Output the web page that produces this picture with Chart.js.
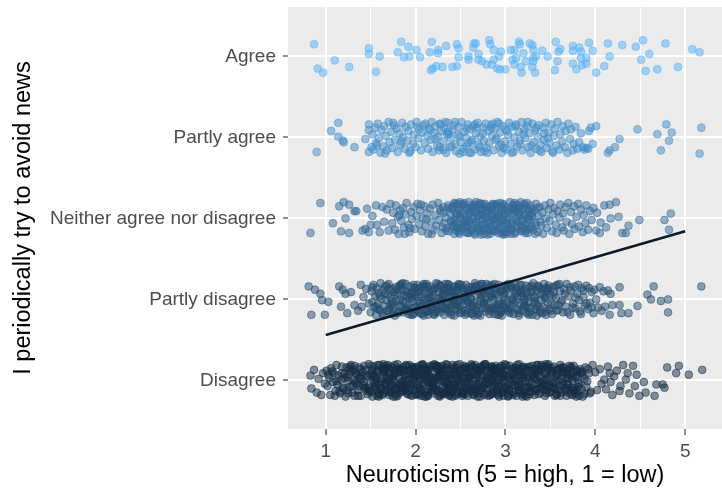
<!DOCTYPE html>
<html>
<head>
<meta charset="utf-8">
<script src="https://cdn.jsdelivr.net/npm/chart.js@4.4.1/dist/chart.umd.min.js"></script>
<style>
  html, body { margin: 0; padding: 0; background: #fff; }
  #wrap { width: 722px; height: 495px; }
</style>
</head>
<body>
<div id="wrap"><canvas id="chart" width="722" height="495"></canvas></div>
<script>
// answer levels, bottom to top
const categories = ['Disagree', 'Partly disagree', 'Neither agree nor disagree', 'Partly agree', 'Agree'];
const xTicks = [1, 2, 3, 4, 5];

// jittered points: pairs of (neuroticism x100, vertical jitter x100)
const disagreePts = [
  83,6, 84,-10, 87,13, 90,-15, 92,2, 95,-18, 97,9, 99,-4,
  101,12, 102,-7, 104,3, 105,-18, 106,15, 108,-2, 109,9, 111,-13, 112,19, 113,-5, 114,6, 116,-16, 117,1, 118,17, 120,-10, 121,8, 122,-20, 124,4, 125,-1, 126,14, 127,-8, 129,11, 130,-15, 131,0, 132,18, 134,-4, 135,7, 136,-12, 137,16, 139,-19, 140,2, 141,10, 142,-6, 144,13, 145,-11, 146,5, 147,-17, 148,20, 150,-3, 119,-9, 107,11, 115,-14, 123,16, 133,-2, 138,5, 143,-9, 128,19, 110,-19, 103,7, 149,8,
  151,-14, 152,9, 153,-1, 154,17, 155,-8, 156,4, 157,-19, 158,12, 159,-5, 160,19, 161,-11, 162,2, 163,14, 164,-16, 165,7, 166,-3, 167,18, 168,-12, 169,0, 170,10, 171,-18, 172,5, 173,-7, 174,15, 175,-20, 176,8, 177,-2, 178,13, 179,-10, 180,20, 181,-6, 182,3, 183,-15, 184,11, 185,-1, 186,16, 187,-13, 188,6, 189,-9, 190,18, 191,-17, 192,1, 193,12, 194,-4, 195,9, 196,-19, 197,15, 198,-8, 199,4, 200,-12,
  152,-20, 154,6, 157,11, 159,-16, 162,-9, 164,20, 167,-6, 169,15, 172,-14, 174,1, 177,19, 179,-17, 182,10, 184,-3, 187,13, 189,-11, 192,7, 194,-18, 197,2, 199,16, 155,-4, 166,12, 176,-11, 186,-7, 196,8,
  201,14, 202,-6, 203,10, 204,-17, 205,3, 206,19, 207,-11, 208,7, 209,-2, 210,16, 211,-14, 212,0, 213,12, 214,-19, 215,5, 216,-8, 217,17, 218,-4, 219,9, 220,-16, 221,20, 222,-10, 223,2, 224,14, 225,-13, 226,6, 227,-20, 228,11, 229,-1, 230,18, 231,-7, 232,4, 233,-15, 234,15, 235,-3, 236,8, 237,-18, 238,13, 239,-9, 240,1, 241,19, 242,-12, 243,10, 244,-5, 245,16, 246,-17, 247,3, 248,-8, 249,12, 250,-14,
  202,17, 204,-1, 206,-13, 208,20, 211,6, 213,-18, 215,14, 217,-7, 219,1, 221,-12, 223,18, 225,4, 227,9, 229,-16, 231,13, 233,-3, 235,19, 237,-10, 239,7, 241,-20, 243,-2, 245,11, 247,-15, 249,5, 203,-9, 209,15, 214,2, 220,-6, 226,17, 232,-11, 238,-19, 244,8, 248,0, 212,-20, 236,-5,
  251,8, 252,-15, 253,3, 254,18, 255,-9, 256,12, 257,-2, 258,-19, 259,15, 260,5, 261,-12, 262,20, 263,-6, 264,9, 265,-17, 266,1, 267,14, 268,-8, 269,-20, 270,11, 271,-3, 272,17, 273,-13, 274,6, 275,-1, 276,19, 277,-16, 278,4, 279,-10, 280,13, 281,-5, 282,16, 283,-18, 284,2, 285,10, 286,-14, 287,7, 288,-7, 289,18, 290,-11, 291,0, 292,15, 293,-20, 294,9, 295,-4, 296,12, 297,-15, 298,6, 299,20, 300,-8,
  251,-6, 254,-14, 256,16, 259,-3, 261,10, 264,-18, 266,19, 269,7, 271,-11, 274,14, 276,-7, 279,3, 281,-19, 284,17, 286,-1, 289,5, 291,-16, 294,11, 296,-12, 299,1, 258,8, 263,-10, 272,-20, 278,20, 288,12, 293,-8, 297,17, 253,-17, 267,-4, 283,-2,
  301,13, 302,-10, 303,4, 304,-17, 305,18, 306,-2, 307,9, 308,-14, 309,15, 310,-6, 311,1, 312,-19, 313,11, 314,-8, 315,20, 316,-12, 317,5, 318,-4, 319,16, 320,-16, 321,7, 322,-1, 323,12, 324,-20, 325,3, 326,-9, 327,17, 328,-13, 329,8, 330,-5, 331,14, 332,-18, 333,2, 334,10, 335,-11, 336,19, 337,-3, 338,6, 339,-15, 340,13, 341,-7, 342,0, 343,17, 344,-19, 345,9, 346,-12, 347,4, 348,15, 349,-6, 350,11,
  303,-19, 307,-6, 311,16, 315,-13, 319,3, 323,-9, 327,-17, 331,7, 335,19, 339,-2, 343,-11, 347,18, 309,6, 321,-14, 337,12,
  351,-14, 352,8, 353,-3, 354,17, 355,-10, 356,5, 357,-18, 358,13, 359,0, 360,-7, 361,19, 362,-15, 363,10, 364,-2, 365,16, 366,-12, 367,3, 368,-19, 369,12, 370,-5, 371,7, 372,-16, 373,15, 374,1, 375,-9, 376,18, 377,-13, 378,4, 379,-20, 380,11, 382,-4, 383,14, 385,-11, 386,6, 388,-17, 389,16, 391,-1, 393,9, 395,-14, 397,19, 354,-8, 362,2, 368,8, 374,-18, 381,-8,
  400,10, 402,-12, 405,14, 407,-4, 410,1, 412,-11, 414,17, 416,9, 417,-2, 419,-18, 421,5, 424,12, 427,-13, 428,-7, 431,19, 434,1, 436,9, 438,-16, 442,18, 444,-7, 446,7, 449,-19, 454,-2, 456,-15, 466,-19, 468,-5, 475,-5, 477,-9, 480,16, 490,9, 493,18, 504,7, 519,13,
  112,-1, 118,9, 125,-16, 131,13, 137,-7, 143,18, 149,-13, 153,5, 156,-11, 158,19, 161,-2, 163,-18, 165,10, 168,3, 171,-15, 173,17, 175,-6, 178,8, 180,-19, 183,14, 185,-9, 188,1, 190,-15, 193,19, 195,-5, 198,11, 200,-17, 203,6, 205,-10, 207,13, 210,-20, 212,9, 214,-3, 216,18, 218,-13, 221,3, 223,-7, 225,15, 228,-18, 230,7, 232,-1, 234,20, 236,-12, 238,2, 240,-14, 242,14, 244,-9, 246,19, 248,-4, 250,10,
  252,-19, 255,16, 257,-7, 259,1, 262,-13, 264,17, 266,-10, 268,4, 270,-16, 273,12, 275,-9, 277,20, 279,-2, 282,7, 284,-15, 286,15, 288,-3, 290,9, 292,-18, 295,18, 297,-1, 299,-10, 301,6, 304,-12, 306,14, 308,-18, 310,3, 313,19, 315,-5, 317,10, 319,-20, 322,15, 324,-8, 326,5, 328,-14, 330,18, 333,-11, 335,1, 337,-17, 339,16, 341,-4, 344,8, 346,-16, 348,20, 350,-1,
  353,12, 355,-19, 357,6, 359,-12, 361,15, 364,-6, 366,10, 368,-14, 371,18, 373,-9, 375,4, 377,-17, 379,13, 381,-3, 384,9, 386,-20, 388,2, 390,-8, 392,14, 394,-16,
  121,3, 124,-12, 127,17, 130,-6, 133,9, 136,-19, 139,14, 142,-2, 145,6, 148,-14, 151,18, 154,-8, 157,1, 160,-17, 163,12, 166,-4, 169,19, 172,-11, 175,5, 178,-20, 181,15, 184,-7, 187,10, 190,-2, 193,-13, 196,17, 199,0, 202,-18, 205,8, 208,-5, 211,14, 214,-15, 217,4, 220,19, 223,-11, 226,1, 229,13, 232,-17, 235,6, 238,-7, 241,16, 244,-19, 247,9, 250,-1,
  253,14, 256,-10, 259,4, 262,18, 265,-14, 268,7, 271,-5, 274,17, 277,-18, 280,2, 283,11, 286,-9, 289,15, 292,-3, 295,-15, 298,8, 301,19, 304,-6, 307,2, 310,-16, 313,13, 316,-1, 319,7, 322,-19, 325,16, 328,-8, 331,4, 334,-13, 337,10, 340,19, 343,-6, 346,1, 349,-15, 352,15, 355,-3, 358,8, 361,-19, 364,12, 367,-9, 370,2, 373,17, 376,-12, 379,6, 382,-19, 385,11,
  126,8, 132,-19, 138,3, 146,-9, 152,13, 159,-20, 165,16, 171,-1, 177,11, 183,-13, 189,19, 194,-9, 200,5, 206,-19, 213,10, 219,-3, 224,18, 230,-14, 237,3, 243,-6, 249,20, 255,-17, 261,6, 267,-12, 272,13, 278,-4, 285,17, 291,-12, 297,4, 303,-20, 309,10, 314,-7, 320,17, 327,-2, 333,13, 338,-10, 345,20, 351,-9, 357,-17, 363,16, 369,-4, 375,10, 380,-13,
  165,-13, 195,13, 225,-19, 255,2, 285,-17, 315,14, 345,-7, 228,10, 258,-11, 288,5, 318,-17, 178,-10, 208,19, 238,-15, 268,15, 298,-19
];

const partlyDisagreePts = [
  81,16, 84,-19, 88,12, 94,7, 96,-1, 99,-19, 103,-3, 115,16, 117,-9, 119,12, 122,7, 124,-17, 128,9, 132,-7, 136,-14, 139,18, 140,-9, 142,3, 145,13, 148,-5,
  150,-16, 151,10, 152,-3, 153,18, 154,-10, 155,4, 156,-19, 157,14, 158,-6, 159,8, 160,-13, 161,20, 162,1, 163,-17, 164,11, 165,-8, 166,16, 167,-1, 168,-14, 169,6, 170,19, 171,-11, 172,3, 173,-18, 174,13, 175,-5, 176,9, 177,-20, 178,15, 179,-2, 180,7, 181,-15, 182,17, 183,0, 184,-9, 185,12, 186,-16, 187,5, 188,-4, 189,19, 190,-12, 191,10, 192,-7, 193,2, 194,16, 195,-19, 196,8, 197,-3, 198,14, 199,-10,
  152,15, 156,-9, 160,4, 164,-20, 168,17, 172,-6, 176,-15, 180,12, 184,19, 188,-13, 192,-18, 196,1, 158,-12, 166,7, 174,-3, 182,-8, 190,4, 198,-17, 170,-14, 186,20,
  200,6, 201,-13, 202,18, 203,-2, 204,10, 205,-17, 206,3, 207,15, 208,-8, 209,-20, 210,12, 211,-5, 212,19, 213,0, 214,-14, 215,8, 216,-10, 217,16, 218,-3, 219,5, 220,-18, 221,13, 222,-7, 223,20, 224,-12, 225,2, 226,9, 227,-16, 228,17, 229,-1, 230,-9, 231,11, 232,-19, 233,6, 234,14, 235,-4, 236,-15, 237,18, 238,1, 239,-11, 240,10, 241,-6, 242,16, 243,-20, 244,4, 245,-13, 246,12, 247,-2, 248,19, 249,-8,
  201,9, 205,-5, 209,17, 213,-15, 217,2, 221,-19, 225,14, 229,-11, 233,19, 237,-7, 241,4, 245,16, 249,-17, 203,-14, 211,7, 219,-12, 227,1, 235,11, 243,-4, 247,15,
  250,3, 251,-16, 252,14, 253,-6, 254,9, 255,-19, 256,18, 257,-1, 258,-12, 259,7, 260,15, 261,-9, 262,0, 263,-17, 264,12, 265,-4, 266,20, 267,-14, 268,5, 269,10, 270,-7, 271,17, 272,-20, 273,2, 274,-11, 275,13, 276,-3, 277,8, 278,-15, 279,19, 280,-5, 281,11, 282,-18, 283,4, 284,16, 285,-10, 286,1, 287,-13, 288,14, 289,-8, 290,6, 291,-19, 292,18, 293,-2, 294,9, 295,-16, 296,12, 297,-6, 298,3, 299,17,
  253,11, 258,-3, 263,15, 268,-10, 273,19, 278,-1, 283,-14, 288,7, 293,-19, 298,-9, 255,1, 265,-20, 275,8, 285,18, 295,-13,
  300,-11, 301,13, 302,-4, 303,19, 304,-15, 305,6, 306,-8, 307,16, 308,1, 309,-18, 310,10, 311,-2, 312,14, 313,-12, 314,4, 315,-20, 316,18, 317,-6, 318,8, 319,-14, 320,12, 321,0, 322,-9, 323,17, 324,-17, 325,5, 326,-3, 327,15, 328,-11, 329,9, 330,-19, 331,20, 332,-5, 333,2, 334,-13, 335,11, 336,-7, 337,16, 338,-16, 339,7, 340,-1, 341,13, 342,-10, 343,19, 344,3, 345,-15, 346,10, 347,-4, 348,17, 349,-12,
  305,-17, 315,9, 325,-10, 335,-20, 345,14,
  350,6, 352,-18, 353,15, 355,-7, 356,2, 358,18, 359,-13, 361,10, 362,-3, 364,-16, 365,13, 367,-9, 368,19, 370,4, 372,-19, 373,11, 375,-5, 377,16, 378,-11, 380,7, 382,-1, 383,-15, 385,14, 387,3, 388,-8, 390,17, 392,-12, 394,-4, 396,9, 398,-17, 399,12, 401,0, 403,-10, 405,15, 407,-14,
  409,10, 411,-9, 414,11, 416,-19, 417,7, 419,-7, 427,15, 427,-7, 429,-17, 437,-17, 447,-8, 458,6, 462,0, 465,16, 473,-2, 481,0, 481,-16, 518,16,
  171,13, 174,-8, 177,5, 180,-17, 183,17, 186,-2, 189,9, 192,-14, 195,4, 198,18, 201,-9, 204,13, 207,-18, 210,1, 213,16, 216,-6, 219,10, 222,-16, 225,19, 228,-3, 231,6, 234,-12, 237,14, 240,-19, 243,8, 246,-7, 249,18, 252,-1, 255,-14, 258,12, 261,2, 264,-9, 267,17, 270,-17, 273,6, 276,-5, 279,14, 282,-11, 285,3, 288,19,
  291,-7, 294,-15, 297,10, 300,0, 303,-13, 306,16, 309,-4, 312,8, 315,-17, 318,18, 321,-8, 324,2, 327,-16, 330,12, 333,-2, 336,17, 339,-12, 342,6, 345,-19, 348,14, 351,-6, 354,9, 357,-14, 360,19, 363,-1, 366,7, 369,-16, 372,15, 375,-10, 378,2, 381,18, 384,-18, 387,11, 390,-5, 393,14, 396,-10, 236,9, 262,-18, 288,-11, 318,4,
  191,-11, 194,7, 197,-19, 200,14, 203,3, 206,-8, 209,19, 212,-15, 215,2, 218,12, 221,-4, 224,-14, 227,17, 230,6, 233,-10, 236,19, 239,-16, 242,-1, 245,10, 248,-12, 251,18, 254,3, 257,-17, 260,9, 263,-7, 266,15, 269,-19, 272,-2, 275,12, 278,-11,
  281,17, 284,6, 287,-18, 290,13, 293,-5, 296,-20, 299,7, 302,15, 305,-11, 308,-1, 311,19, 314,-13, 317,11, 320,-4, 323,8, 326,-19, 329,17, 332,3, 335,-9, 338,14, 341,-17, 344,1, 347,12, 350,-14, 353,4, 356,17, 359,-7, 214,-19, 244,-6, 274,19
];

const neitherPts = [
  83,-18, 94,19, 108,-6, 115,15, 117,-16, 120,20, 122,0, 126,17, 126,-18, 132,9, 134,9, 141,-15, 144,-13, 146,12, 148,-17, 150,-8, 152,3, 156,16, 157,-8, 160,-17, 163,14, 165,-4, 168,11, 170,-15, 172,18,
  174,-6, 175,7, 177,-14, 178,16, 180,2, 181,-19, 183,10, 184,-3, 186,13, 187,-11, 189,5, 190,19, 192,-8, 193,-17, 195,8, 196,-1, 198,14, 199,-13, 201,3, 202,18, 204,-7, 205,10, 207,-16, 208,0, 210,15, 211,-10, 213,6, 214,-19, 216,12, 217,-4, 219,17, 220,-14, 222,4, 223,-9, 225,19, 226,-2, 228,9, 229,-18, 231,14, 232,-6, 234,1, 235,-12, 236,16, 237,-16, 238,7, 239,-3, 240,11, 182,4, 194,-12, 206,17, 218,-19, 230,-11, 188,-19, 212,-1, 227,12,
  241,-10, 242,15, 243,-2, 244,18, 245,-15, 246,5, 247,-7, 248,12, 249,-19, 250,9, 251,0, 252,-12, 253,17, 254,-5, 255,3, 256,-17, 257,13, 258,-9, 259,20, 260,-3, 261,7, 262,-14, 263,16, 264,1, 265,-18, 266,10, 267,-6, 268,14, 269,-11, 270,4, 271,19, 272,-16, 273,8, 274,-1, 275,12, 276,-13, 277,18, 278,-8, 279,2, 280,-20, 281,11, 282,-4, 283,15, 284,-10, 285,6, 286,17, 287,-15, 288,0, 289,9, 290,-7, 291,13, 292,-18, 293,4, 294,19, 295,-12, 296,7, 297,-2, 298,16, 299,-17, 300,10, 301,-5, 302,14, 303,-9, 304,1, 305,20, 306,-14, 307,6, 308,-3, 309,12, 310,-19, 311,8, 312,-8, 313,17, 314,-11, 315,3, 316,15, 317,-16, 318,-1, 319,11, 320,-13, 321,18, 322,5, 323,-6, 324,13, 325,-18, 326,9, 327,-2, 328,16, 329,-10, 330,2,
  242,-8, 245,6, 248,-17, 251,14, 254,19, 257,-4, 260,11, 263,-13, 266,-20, 269,3, 272,17, 275,-7, 278,9, 281,-16, 284,13, 287,-1, 290,18, 293,-11, 296,-19, 299,5, 302,-2, 305,-12, 308,15, 311,-17, 314,8, 317,20, 320,-4, 323,-15, 326,2, 329,12,
  331,-14, 332,10, 333,-5, 334,18, 336,-17, 337,3, 338,14, 340,-9, 341,7, 342,-19, 344,16, 345,0, 346,-12, 348,11, 349,-3, 350,19, 352,-16, 353,5, 354,13, 356,-8, 357,-18, 358,9, 360,1, 361,17, 363,-11, 364,6, 365,-15, 367,14, 368,-4, 370,19, 371,-19, 373,8, 374,-7, 376,15, 377,-13, 379,2, 381,18, 382,-10, 384,11, 386,-17, 387,4, 389,-6, 390,16, 392,-14, 394,9,
  396,-2, 398,13, 401,-15, 402,7, 405,-18, 406,-5, 410,16, 412,-11, 416,17, 417,0, 423,20, 426,2, 430,-18, 434,-18, 437,-9, 449,-2, 477,-2, 482,-14, 484,6,
  231,7, 234,-15, 237,13, 240,-4, 243,19, 246,-11, 249,3, 252,17, 255,-8, 258,-18, 261,12, 264,-1, 267,20, 270,-13, 273,5, 276,-19, 279,15, 282,-6, 285,10, 288,-16, 291,1, 294,-4, 297,18, 300,-13, 303,8, 306,-19, 309,17, 312,-2, 315,11, 318,-9, 321,4, 324,19, 327,-12, 330,7, 333,-19, 336,13, 339,-4,
  247,-12, 253,-6, 259,6, 265,14, 271,-8, 277,3, 283,-14, 289,16, 295,9, 301,-17, 307,-7, 313,12, 319,-15, 325,-1, 245,2, 262,-16, 274,18, 286,-2, 298,-20, 310,10, 322,-18, 334,-8,
  241,13, 244,-7, 247,18, 250,-14, 253,5, 256,-2, 259,-18, 262,9, 265,17, 268,-5, 271,-16, 274,12, 277,-1, 280,7, 283,-19, 286,18, 289,-9, 292,3, 295,14, 298,-6, 301,-19, 304,11, 307,-14, 310,19, 313,-4, 316,6, 319,-11, 322,16, 325,-13, 328,4, 243,-19, 249,20, 255,-10, 261,-5, 267,8, 273,-20, 279,-12, 285,3, 291,-14, 297,-1
];

const partlyAgreePts = [
  90,-18, 106,8, 114,18, 114,1, 119,-4, 120,-6, 132,-12, 144,-2, 148,-18, 151,-12, 148,16, 148,9,
  152,4, 153,-15, 155,12, 156,-7, 158,17, 159,-1, 161,-19, 162,9, 164,-11, 165,14, 167,2, 168,-16, 170,19, 171,-6, 173,7, 174,-13, 176,15, 177,-3, 179,11, 180,-18, 182,5, 183,-9, 185,18, 186,0, 188,-14, 189,13, 191,-4, 192,8, 194,-17, 195,16, 197,-8, 198,3, 200,-12, 201,19, 203,-1, 204,10, 206,-16, 207,6, 209,15, 157,-10, 166,-20, 175,18, 184,-5, 193,-19, 202,13,
  210,-7, 211,17, 213,2, 214,-14, 215,11, 217,-3, 218,19, 219,-18, 221,6, 222,14, 224,-10, 225,1, 226,-16, 228,16, 229,8, 231,-5, 232,12, 234,-19, 235,4, 236,18, 238,-12, 239,-1, 241,9, 242,15, 244,-8, 245,-17, 247,3, 248,13, 250,-6, 251,19, 253,-14, 254,7, 256,0, 257,-11, 258,16, 260,-19, 261,10, 263,-3, 264,14, 266,-15, 267,5, 269,18, 270,-9, 272,1, 273,-18, 275,12, 276,-4, 278,17, 279,-13, 281,8, 282,-7, 284,15, 285,2, 287,-16, 288,11, 290,-1, 291,19, 293,-11, 294,6, 296,-19, 297,14, 299,-5,
  216,9, 227,-12, 237,4, 249,-20, 259,-7, 268,12, 277,-17, 286,17, 295,-9, 233,19, 262,-19,
  300,10, 301,-15, 303,3, 304,18, 306,-8, 307,13, 309,-18, 310,0, 312,16, 313,-11, 315,7, 316,-4, 318,19, 319,-16, 321,10, 322,-1, 324,14, 325,-12, 327,5, 328,-19, 330,17, 331,-6, 333,9, 334,-14, 336,1, 337,15, 339,-9, 340,-18, 342,12, 343,-3, 345,18, 346,-13, 348,6, 349,-7, 351,16, 352,-17, 354,2, 355,11, 357,-10, 358,19, 360,-15, 361,4, 363,-5, 364,14, 366,-12, 367,8, 369,-19, 370,17, 372,-2, 373,10, 375,-16, 376,-8, 378,13, 380,-14, 382,-6, 384,5, 386,-12, 388,-15, 390,-13, 392,-14,
  393,8, 397,-8, 401,14, 395,12, 414,-19, 416,-16, 422,-12, 427,-2, 447,10, 469,4, 473,-16, 479,16, 482,-4, 485,6, 518,12, 516,-20,
  222,-2, 227,17, 231,-15, 236,7, 240,-11, 244,19, 249,1, 253,-18, 257,11, 262,-5, 266,16, 271,-12, 275,5, 280,-19, 284,12, 289,-3, 293,17, 298,-13, 302,8, 307,-19, 311,14, 316,-8, 320,4, 325,19, 329,-10, 334,12, 338,-16, 343,5, 347,-1, 353,-19
];

const agreePts = [
  87,15, 91,-15, 97,-20, 110,-5, 126,-13, 148,10, 148,3, 160,0, 156,-19, 180,5, 184,18, 187,-1, 192,12, 193,0, 201,8, 205,-1, 216,5, 218,18, 217,-17, 219,-15, 223,-12, 225,8, 225,4, 230,-13, 234,13, 241,-13, 246,-12, 246,15, 248,10, 248,-1, 259,0, 259,-4, 265,16, 267,16, 264,11, 270,3, 270,-4, 274,-6, 279,-10, 282,20, 283,15, 287,8, 287,-4, 285,-10, 291,-15, 294,-16, 295,6, 293,0, 300,-16, 306,8, 308,-4, 310,8, 312,-2, 310,-10, 315,18, 316,15, 317,-13, 318,-20, 320,4, 323,-6, 327,16, 330,14, 331,8, 331,-2, 331,-6, 333,-20, 334,0, 330,-13, 341,7, 347,0, 356,18, 359,6, 361,9, 358,-6, 355,-17, 375,13, 375,7, 375,-9, 379,-16, 382,11, 384,6, 384,-2, 385,-11, 390,-2, 390,-9, 393,17, 397,7, 401,-20, 410,-12, 414,16, 416,0, 430,14, 445,12, 451,-4, 453,20, 460,3, 456,-18, 469,-16, 478,16, 492,-13, 508,9, 516,5
];

// fitted linear trend (level as number vs neuroticism)
const fitX = [1, 5];
const fitY = [1.56, 2.84];

const levelColours = ['19,43,67', '36,75,110', '51,106,152', '68,141,200', '86,177,247'];

function toPoints(pairs, level) {
    const pts = [];
    for (let i = 0; i < pairs.length; i += 2) {
        pts.push({ x: pairs[i] / 100, y: level + pairs[i + 1] / 100 });
    }
    return pts;
}

function pointSet(pairs, level) {
    const rgb = levelColours[level - 1];
    return {
        label: categories[level - 1],
        data: toPoints(pairs, level),
        backgroundColor: 'rgba(' + rgb + ',0.5)',
        borderColor: 'rgba(' + rgb + ',0.5)',
        borderWidth: 1,
        pointRadius: 3.9
    };
}

// grey ggplot-style panel
const panelBackground = {
    id: 'panelBackground',
    beforeDraw(chart) {
        const { ctx, chartArea: a } = chart;
        ctx.save();
        ctx.fillStyle = '#ffffff';
        ctx.fillRect(0, 0, chart.width, chart.height);
        ctx.fillStyle = '#EBEBEB';
        ctx.fillRect(a.left, a.top, a.right - a.left, a.bottom - a.top);
        ctx.restore();
    }
};

Chart.defaults.font.family = '"Liberation Sans", Arial, sans-serif';

const ctx = document.getElementById('chart').getContext('2d');
new Chart(ctx, {
    type: 'scatter',
    data: {
        datasets: [
            {
                label: 'fit',
                data: fitX.map((x, i) => ({ x: x, y: fitY[i] })),
                showLine: true,
                borderColor: '#0b1a29',
                borderWidth: 2.6,
                pointRadius: 0
            },
            pointSet(agreePts, 5),
            pointSet(partlyAgreePts, 4),
            pointSet(neitherPts, 3),
            pointSet(partlyDisagreePts, 2),
            pointSet(disagreePts, 1)
        ]
    },
    options: {
        responsive: false,
        animation: false,
        events: [],
        layout: { autoPadding: false, padding: { top: 7, right: 0, bottom: 0, left: 0 } },
        plugins: { legend: { display: false }, tooltip: { enabled: false } },
        scales: {
            x: {
                type: 'linear',
                min: 0.58,
                max: 5.41,
                afterBuildTicks: (axis) => {
                    const t = [];
                    xTicks.forEach((v, i) => {
                        t.push({ value: v });
                        if (i < xTicks.length - 1) t.push({ value: (v + xTicks[i + 1]) / 2 });
                    });
                    axis.ticks = t;
                },
                afterFit: (axis) => {
                    axis.height = 66;
                    axis.paddingLeft = 0;
                    axis.paddingRight = 0;
                },
                border: { display: false },
                grid: {
                    color: '#ffffff',
                    lineWidth: (c) => Number.isInteger(c.tick.value) ? 2 : 1,
                    tickColor: (c) => Number.isInteger(c.tick.value) ? '#333333' : 'rgba(0,0,0,0)',
                    tickWidth: 1.1,
                    tickLength: 6
                },
                ticks: {
                    autoSkip: false,
                    maxRotation: 0,
                    padding: 5,
                    color: '#4D4D4D',
                    font: { size: 19 },
                    callback: (v) => Number.isInteger(v) ? String(v) : ''
                },
                title: {
                    display: true,
                    text: 'Neuroticism (5 = high, 1 = low)',
                    color: '#000000',
                    font: { size: 23.5 },
                    padding: { top: 0, bottom: 5 }
                }
            },
            y: {
                type: 'linear',
                min: 0.40,
                max: 5.61,
                afterBuildTicks: (axis) => {
                    axis.ticks = categories.map((c, i) => ({ value: i + 1 }));
                },
                afterFit: (axis) => {
                    axis.width = 288;
                    axis.paddingTop = 0;
                    axis.paddingBottom = 0;
                },
                border: { display: false },
                grid: {
                    color: '#ffffff',
                    lineWidth: 2,
                    tickColor: '#333333',
                    tickWidth: 1.1,
                    tickLength: 5
                },
                ticks: {
                    padding: 7,
                    color: '#4D4D4D',
                    font: { size: 19 },
                    callback: (v) => categories[v - 1]
                },
                title: {
                    display: true,
                    text: 'I periodically try to avoid news',
                    color: '#000000',
                    font: { size: 23.5 },
                    padding: { top: 9, bottom: 0 }
                }
            }
        }
    },
    plugins: [panelBackground]
});
</script>
</body>
</html>
